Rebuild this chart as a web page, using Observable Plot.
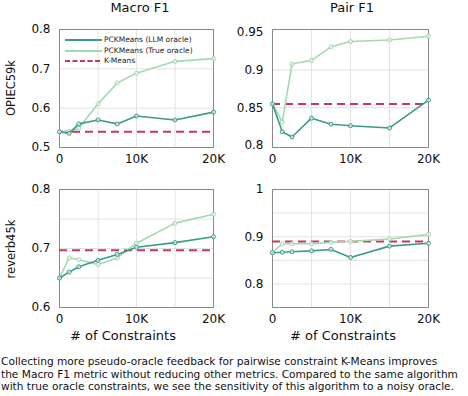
<!DOCTYPE html>
<html>
<head>
<meta charset="utf-8">
<script src="https://cdn.jsdelivr.net/npm/d3@7"></script>
<script src="https://cdn.jsdelivr.net/npm/@observablehq/plot@0.6"></script>
<style>
  html, body { margin: 0; padding: 0; background: white; }
  body { font-family: "DejaVu Sans", Verdana, sans-serif; color: #111; }
  #wrap { position: relative; width: 468px; height: 396px; overflow: hidden; }
  .panel { position: absolute; }
  .panel svg { max-width: none !important; overflow: visible; }
  .lbl { position: absolute; white-space: nowrap; }
  .title { font-size: 13px; transform: translateX(-50%); }
  .xlab { font-size: 13px; transform: translateX(-50%); }
  .rowlab { font-size: 11.5px; transform: translate(-50%, -50%) rotate(-90deg); }
  #legend { position: absolute; left: 64px; top: 35px; font-size: 7.5px; color: #222; }
  #legend div { height: 10.5px; line-height: 10.5px; display: flex; align-items: center; }
  #legend svg { margin-right: 2px; }
  #caption { position: absolute; left: 1px; top: 355px; font-size: 10.6px; line-height: 12.6px; white-space: nowrap; color: #111; }
</style>
</head>
<body>
<div id="wrap">
  <div class="lbl title" style="left:140px; top:0px;">Macro F1</div>
  <div class="lbl title" style="left:352px; top:0px;">Pair F1</div>
  <div class="lbl rowlab" style="left:11px; top:88px;">OPIEC59k</div>
  <div class="lbl rowlab" style="left:11px; top:249px;">reverb45k</div>
  <div class="lbl xlab" style="left:123px; top:328px;"># of Constraints</div>
  <div class="lbl xlab" style="left:343px; top:328px;"># of Constraints</div>
  <div class="panel" id="p00" style="left:0px; top:0px;"></div>
  <div class="panel" id="p01" style="left:230px; top:0px;"></div>
  <div class="panel" id="p10" style="left:0px; top:170px;"></div>
  <div class="panel" id="p11" style="left:230px; top:170px;"></div>
  <div id="legend"></div>
  <div id="caption">Collecting more pseudo-oracle feedback for pairwise constraint K-Means improves<br>the Macro F1 metric without reducing other metrics. Compared to the same algorithm<br>with true oracle constraints, we see the sensitivity of this algorithm to a noisy oracle.</div>
</div>
<script>
// ---- data ----
const constraints = [0, 1250, 2500, 5000, 7500, 10000, 15000, 20000];
const xTicks = [0, 10000, 20000];
const xGrid = [5000, 10000, 15000];
const seriesNames = ["PCKMeans (LLM oracle)", "PCKMeans (True oracle)", "K-Means"];

// OPIEC59k, Macro F1
const opiecMacroLLM  = [0.540, 0.536, 0.560, 0.570, 0.560, 0.580, 0.570, 0.590];
const opiecMacroTrue = [0.540, 0.541, 0.549, 0.611, 0.664, 0.689, 0.719, 0.726];
const opiecMacroKMeans = 0.540;
// OPIEC59k, Pair F1
const opiecPairLLM  = [0.855, 0.818, 0.811, 0.836, 0.828, 0.826, 0.823, 0.860];
const opiecPairTrue = [0.855, 0.831, 0.908, 0.913, 0.931, 0.938, 0.940, 0.945];
const opiecPairKMeans = 0.855;
// reverb45k, Macro F1
const reverbMacroLLM  = [0.650, 0.660, 0.669, 0.680, 0.690, 0.702, 0.710, 0.720];
const reverbMacroTrue = [0.650, 0.684, 0.681, 0.673, 0.684, 0.709, 0.743, 0.758];
const reverbMacroKMeans = 0.697;
// reverb45k, Pair F1
const reverbPairLLM  = [0.866, 0.867, 0.868, 0.870, 0.873, 0.856, 0.880, 0.886];
const reverbPairTrue = [0.866, 0.885, 0.885, 0.885, 0.888, 0.890, 0.895, 0.905];
const reverbPairKMeans = 0.890;

const colors = {llm: "#3d9a8b", tru: "#a3d9ae", km: "#c93461"};

function rows(ys) { return constraints.map((x, i) => ({x, y: ys[i]})); }

function panel(id, o) {
  const el = document.getElementById(id);
  const fw = o.fw, fh = 118;
  const chart = Plot.plot({
    width: o.ml + fw + 22,
    height: o.mt + fh + 22,
    marginLeft: o.ml, marginRight: 22, marginTop: o.mt, marginBottom: 22,
    style: {background: "transparent", fontFamily: "DejaVu Sans, Verdana, sans-serif", fontSize: "12px", color: "#111", overflow: "visible"},
    x: {domain: [0, 20000]},
    y: {domain: o.ydomain},
    marks: [
      Plot.gridX(xGrid, {stroke: "#e2e2e2", strokeOpacity: 1}),
      Plot.gridY(o.ygrid, {stroke: "#e2e2e2", strokeOpacity: 1}),
      Plot.frame({stroke: "#8a8a8a"}),
      Plot.axisX({ticks: xTicks, tickSize: 0, tickPadding: 7, label: null,
        tickFormat: d => d === 0 ? "0" : (d / 1000) + "K", fontSize: 12}),
      Plot.axisY({ticks: o.yticks, tickSize: 0, tickPadding: 9, label: null,
        tickFormat: o.fmt, fontSize: 12}),
      Plot.ruleY([o.km], {stroke: colors.km, strokeWidth: 2, strokeDasharray: "8,5"}),
      Plot.line(rows(o.tru), {x: "x", y: "y", stroke: colors.tru, strokeWidth: 1.6}),
      Plot.dot(rows(o.tru), {x: "x", y: "y", r: 2, stroke: colors.tru, fill: "white", fillOpacity: 0.6, strokeWidth: 1}),
      Plot.line(rows(o.llm), {x: "x", y: "y", stroke: colors.llm, strokeWidth: 1.6}),
      Plot.dot(rows(o.llm), {x: "x", y: "y", r: 2, stroke: colors.llm, fill: "white", fillOpacity: 0.6, strokeWidth: 1})
    ]
  });
  el.appendChild(chart);
}

const f2 = d => String(+d.toFixed(2));

panel("p00", {ml: 59, mt: 29, fw: 154, ydomain: [0.5, 0.8], yticks: [0.5, 0.6, 0.7, 0.8], ygrid: [0.6, 0.7], fmt: f2,
  llm: opiecMacroLLM, tru: opiecMacroTrue, km: opiecMacroKMeans});
panel("p01", {ml: 42, mt: 29, fw: 156, ydomain: [0.797, 0.954], yticks: [0.8, 0.85, 0.9, 0.95], ygrid: [0.85, 0.9], fmt: f2,
  llm: opiecPairLLM, tru: opiecPairTrue, km: opiecPairKMeans});
panel("p10", {ml: 59, mt: 19, fw: 154, ydomain: [0.6, 0.8], yticks: [0.6, 0.7, 0.8], ygrid: [0.65, 0.7, 0.75], fmt: f2,
  llm: reverbMacroLLM, tru: reverbMacroTrue, km: reverbMacroKMeans});
panel("p11", {ml: 42, mt: 19, fw: 156, ydomain: [0.75, 1], yticks: [0.8, 0.9, 1], ygrid: [0.8, 0.85, 0.9, 0.95], fmt: f2,
  llm: reverbPairLLM, tru: reverbPairTrue, km: reverbPairKMeans});

// legend
const legend = document.getElementById("legend");
const styles = [
  {c: colors.llm, w: 2, dash: null},
  {c: colors.tru, w: 2, dash: null},
  {c: colors.km, w: 2, dash: "5,2.5"}
];
seriesNames.forEach((name, i) => {
  const row = document.createElement("div");
  const s = styles[i];
  row.innerHTML = `<svg width="38" height="6"><line x1="1" x2="38" y1="3" y2="3" stroke="${s.c}" stroke-width="${s.w}" ${s.dash ? `stroke-dasharray="${s.dash}"` : ""}/></svg><span>${name}</span>`;
  legend.appendChild(row);
});
</script>
</body>
</html>
